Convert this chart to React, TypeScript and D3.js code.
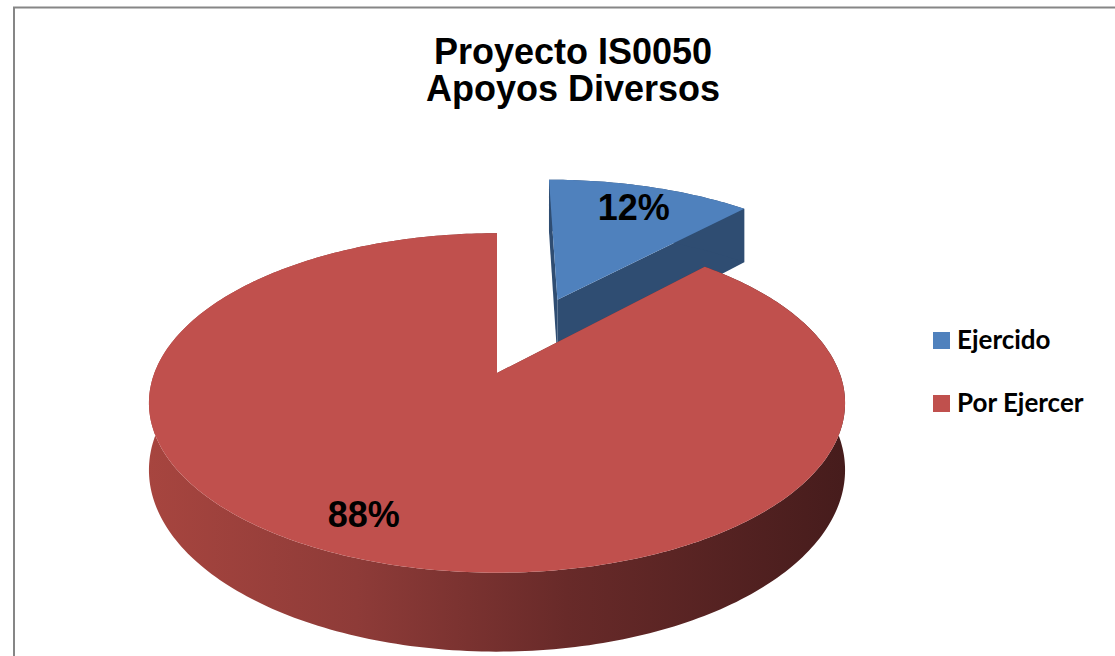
import React, { useEffect, useRef } from "react";
import * as d3 from "d3";

const categories = ["Ejercido", "Por Ejercer"];
const values = [12, 88];
const labels = ["12%", "88%"];
const topColors = ["#4F81BD", "#C0504D"];
const sideColors = ["#2F4D72", "#7A3331"];
const explode = [0.52, 0];
const labelDx = [0, -17];

const W = 1115;
const H = 656;

// fake 3D: circle in a tilted plane with a bit of perspective
const cx = 497;
const cy = 373;
const R = 342.6;
const tilt = 0.48;
const persp = 0.1765;
const depth = 65;

function proj(u: number, v: number, down: number): [number, number] {
  const s = 1 / (1 - persp * v);
  return [cx + R * u * s, cy + R * tilt * v * s + down * s];
}

export default function App() {
  const ref = useRef<SVGSVGElement>(null);

  useEffect(() => {
    const svg = d3.select(ref.current);
    svg.selectAll("*").remove();

    const defs = svg.append("defs");
    const grad = defs
      .append("linearGradient")
      .attr("id", "redSide")
      .attr("gradientUnits", "userSpaceOnUse")
      .attr("x1", cx - R * 1.02)
      .attr("x2", cx + R * 1.02)
      .attr("y1", 0)
      .attr("y2", 0);
    grad.append("stop").attr("offset", 0).attr("stop-color", "#A7453F");
    grad.append("stop").attr("offset", 0.3).attr("stop-color", "#8E3B38");
    grad.append("stop").attr("offset", 0.6).attr("stop-color", "#682A29");
    grad.append("stop").attr("offset", 1).attr("stop-color", "#461C1C");

    // frame
    svg
      .append("rect")
      .attr("x", 14)
      .attr("y", 7.5)
      .attr("width", W + 20)
      .attr("height", H + 20)
      .attr("fill", "#fff")
      .attr("stroke", "#868686")
      .attr("stroke-width", 2);

    const pie = d3
      .pie<number>()
      .sort(null)
      .value((d) => d);
    const arcs = pie(values);

    const slices = arcs.map((a, i) => {
      const mid = (a.startAngle + a.endAngle) / 2;
      const ou = explode[i] * Math.sin(mid);
      const ov = -explode[i] * Math.cos(mid);
      const pt = (ang: number, r: number, down: number) =>
        proj(ou + r * Math.sin(ang), ov - r * Math.cos(ang), down);
      const n = Math.max(8, Math.ceil(((a.endAngle - a.startAngle) * 180) / Math.PI));
      const angs = d3.range(n + 1).map((k) => a.startAngle + ((a.endAngle - a.startAngle) * k) / n);
      return { a, i, mid, pt, angs };
    });

    const line = d3.line();

    const drawSlice = (sl: (typeof slices)[number]) => {
      const { a, i, pt, angs } = sl;
      const g = svg.append("g");
      // radial faces
      [a.startAngle, a.endAngle].forEach((ang) => {
        g.append("path")
          .attr("d", line([pt(0, 0, 0), pt(ang, 1, 0), pt(ang, 1, depth), pt(0, 0, depth)])! + "Z")
          .attr("fill", sideColors[i]);
      });
      // outer wall
      const topRim = angs.map((ang) => pt(ang, 1, 0));
      const botRim = angs.map((ang) => pt(ang, 1, depth)).reverse();
      g.append("path")
        .attr("d", line(topRim.concat(botRim))! + "Z")
        .attr("fill", i === 1 ? "url(#redSide)" : sideColors[i]);
      // top face
      g.append("path")
        .attr("d", line([pt(0, 0, 0)].concat(topRim))! + "Z")
        .attr("fill", topColors[i]);
    };

    // blue one sits behind
    drawSlice(slices[0]);
    drawSlice(slices[1]);

    slices.forEach((sl) => {
      const [lx, ly] = sl.pt(sl.mid, 0.8, 0);
      svg
        .append("text")
        .attr("x", lx + labelDx[sl.i])
        .attr("y", ly + 13)
        .attr("text-anchor", "middle")
        .attr("font-family", "Liberation Sans, Arial, sans-serif")
        .attr("font-weight", "bold")
        .attr("font-size", 36)
        .attr("fill", "#000")
        .text(labels[sl.i]);
    });

    // title
    const title = svg
      .append("text")
      .attr("text-anchor", "middle")
      .attr("font-family", "Liberation Sans, Arial, sans-serif")
      .attr("font-weight", "bold")
      .attr("font-size", 36)
      .attr("fill", "#000");
    title.append("tspan").attr("x", 573).attr("y", 64).text("Proyecto IS0050");
    title.append("tspan").attr("x", 573).attr("y", 101).text("Apoyos Diversos");

    // legend
    const leg = svg
      .selectAll("g.leg")
      .data(categories)
      .enter()
      .append("g")
      .attr("class", "leg")
      .attr("transform", (d, i) => `translate(933,${332 + i * 63})`);
    leg
      .append("rect")
      .attr("width", 17)
      .attr("height", 17)
      .attr("fill", (d, i) => topColors[i]);
    leg
      .append("text")
      .attr("x", 24)
      .attr("y", 17)
      .attr("font-family", "Lato, Open Sans, sans-serif")
      .attr("font-weight", "bold")
      .attr("font-size", 26)
      .attr("fill", "#000")
      .text((d) => d);
  }, []);

  return (
    <svg
      ref={ref}
      width={W}
      height={H}
      style={{ position: "absolute", left: 0, top: 0, background: "#fff" }}
    />
  );
}
